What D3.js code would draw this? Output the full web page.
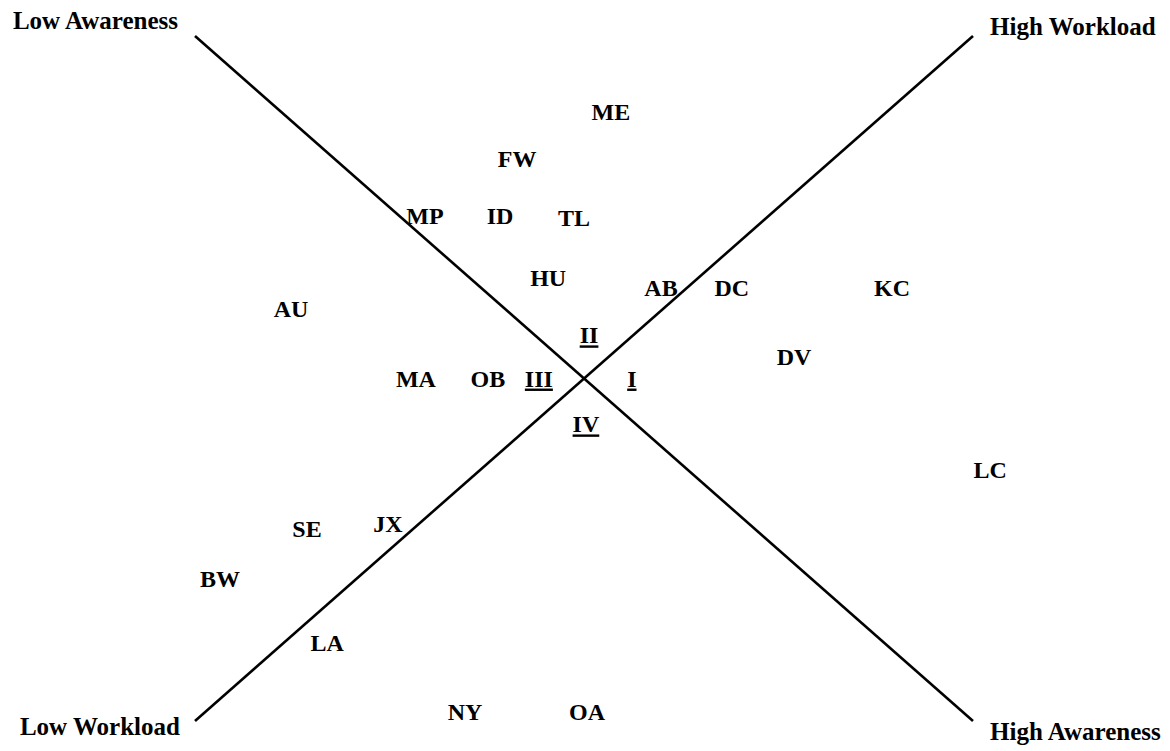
<!DOCTYPE html>
<html>
<head>
<meta charset="utf-8">
<script src="https://cdn.jsdelivr.net/npm/d3@7"></script>
<style>
  html, body { margin: 0; padding: 0; background: #fff; }
  svg { display: block; }
</style>
</head>
<body>
<div id="chart"></div>
<script>
// Positions of the station codes on the awareness / workload diagram
const codes = ['ME', 'FW', 'MP', 'ID', 'TL', 'HU', 'AB', 'DC', 'KC', 'AU', 'DV',
  'MA', 'OB', 'LC', 'SE', 'JX', 'BW', 'LA', 'NY', 'OA'];
const codeX = [0.69, -1.72, -4.09, -2.16, -0.26, -0.92, 1.98, 3.80, 7.92, -7.53, 5.40,
  -4.32, -2.47, 10.44, -7.12, -5.04, -9.36, -6.60, -3.06, 0.08];
const codeY = [7.78, 6.42, 4.77, 4.77, 4.70, 2.94, 2.64, 2.64, 2.64, 2.03, 0.63,
  0.01, 0.01, -2.66, -4.38, -4.23, -5.85, -7.70, -9.74, -9.74];

// Quadrant numerals
const quadrants = ['I', 'II', 'III', 'IV'];
const quadX = [1.23, 0.13, -1.16, 0.05];
const quadY = [0.01, 1.27, 0.01, -1.33];

// The two diagonal axes (awareness and workload)
const axisFrom = [[-10, 10], [-10, -10]];
const axisTo = [[10, -10], [10, 10]];

// Labels at the ends of the axes
const endLabels = ['Low Awareness', 'High Workload', 'Low Workload', 'High Awareness'];
const endX = [-14.68, 10.44, -14.50, 10.44];
const endY = [10.20, 10.03, -10.41, -10.55];

const width = 1170;
const height = 751;

const svg = d3.select('#chart')
  .append('svg')
  .attr('width', width)
  .attr('height', height)
  .attr('viewBox', `0 0 ${width} ${height}`)
  .style('font-family', '"Liberation Serif", "DejaVu Serif", serif')
  .style('font-weight', 'bold');

const x = d3.scaleLinear().domain([-10, 10]).range([195, 973]);
const y = d3.scaleLinear().domain([-10, 10]).range([721, 36]);

// axes
svg.selectAll('line.axis')
  .data(axisFrom)
  .enter()
  .append('line')
  .attr('class', 'axis')
  .attr('x1', d => x(d[0]))
  .attr('y1', d => y(d[1]))
  .attr('x2', (_, i) => x(axisTo[i][0]))
  .attr('y2', (_, i) => y(axisTo[i][1]))
  .attr('stroke', '#000')
  .attr('stroke-width', 2.6);

// end labels
svg.selectAll('text.end')
  .data(endLabels)
  .enter()
  .append('text')
  .attr('class', 'end')
  .attr('x', (_, i) => x(endX[i]))
  .attr('y', (_, i) => y(endY[i]))
  .attr('font-size', 25)
  .text(d => d);

// station codes
svg.selectAll('text.code')
  .data(codes)
  .enter()
  .append('text')
  .attr('class', 'code')
  .attr('x', (_, i) => x(codeX[i]))
  .attr('y', (_, i) => y(codeY[i]))
  .attr('dy', '0.35em')
  .attr('text-anchor', 'middle')
  .attr('font-size', 24)
  .text(d => d);

// quadrant numbers, underlined
svg.selectAll('text.quad')
  .data(quadrants)
  .enter()
  .append('text')
  .attr('class', 'quad')
  .attr('x', (_, i) => x(quadX[i]))
  .attr('y', (_, i) => y(quadY[i]))
  .attr('dy', '0.35em')
  .attr('text-anchor', 'middle')
  .attr('font-size', 24)
  .style('text-decoration', 'underline')
  .text(d => d);
</script>
</body>
</html>
